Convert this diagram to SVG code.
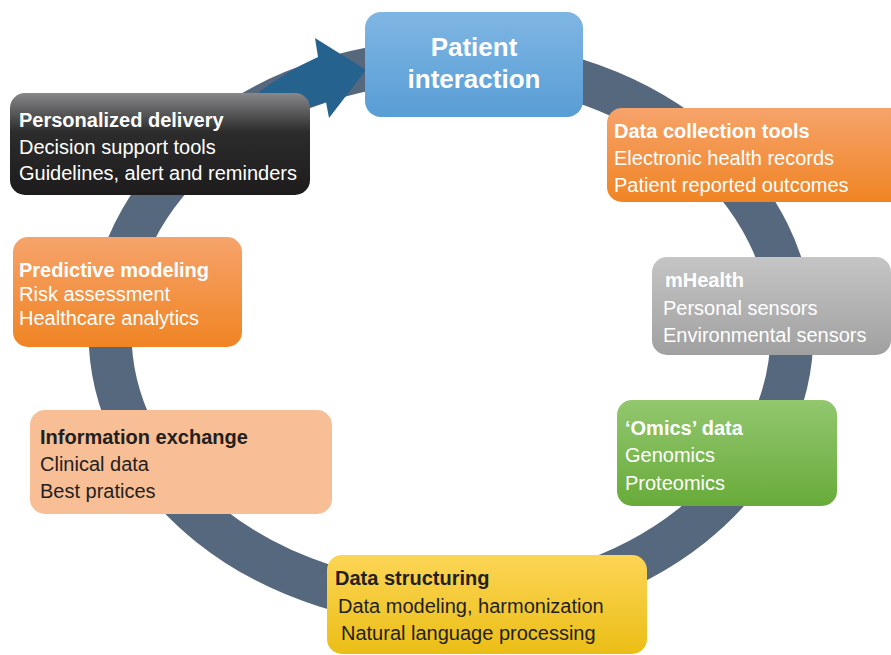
<svg xmlns="http://www.w3.org/2000/svg" width="891" height="655" viewBox="0 0 891 655">
<defs>
<linearGradient id="gBlue" x1="0" y1="0" x2="0" y2="1"><stop offset="0" stop-color="#7fb6e3"/><stop offset="1" stop-color="#589dd5"/></linearGradient>
<linearGradient id="gDark" x1="0" y1="0" x2="0" y2="1"><stop offset="0" stop-color="#88888a"/><stop offset="0.38" stop-color="#2d2c2c"/><stop offset="1" stop-color="#1d1b1b"/></linearGradient>
<linearGradient id="gOrange" x1="0" y1="0" x2="0" y2="1"><stop offset="0" stop-color="#f6a36b"/><stop offset="1" stop-color="#f08423"/></linearGradient>
<linearGradient id="gGrey" x1="0" y1="0" x2="0" y2="1"><stop offset="0" stop-color="#c5c5c5"/><stop offset="1" stop-color="#a0a0a0"/></linearGradient>
<linearGradient id="gGreen" x1="0" y1="0" x2="0" y2="1"><stop offset="0" stop-color="#92c76e"/><stop offset="1" stop-color="#68ab3a"/></linearGradient>
<linearGradient id="gYellow" x1="0" y1="0" x2="0" y2="1"><stop offset="0" stop-color="#fcd555"/><stop offset="1" stop-color="#ebbe16"/></linearGradient>
</defs>
<style>
text{font-family:"Liberation Sans",Arial,Helvetica,sans-serif;font-size:20px}
.w{fill:#ffffff}
.d{fill:#231f20}
.b{font-weight:bold}
</style>
<g id="connectors">
<ellipse cx="451" cy="333" rx="341" ry="272" fill="none" stroke="#56687e" stroke-width="43"/>
<path d="M 246,102 Q 282,73 318,57 L 315,38 L 366,70 L 329,118 L 326,102 Q 290,112 255,135 Z" fill="#26628e"/>
</g>
<g id="patient-interaction">
<rect x="365" y="12" width="218" height="105" rx="16" fill="url(#gBlue)"/>
<text class="w b" x="474" y="56" text-anchor="middle" style="font-size:26px">Patient</text>
<text class="w b" x="474" y="88" text-anchor="middle" style="font-size:26px">interaction</text>
</g>
<g id="personalized-delivery">
<rect x="10" y="93" width="300" height="102" rx="15" fill="url(#gDark)"/>
<text class="w b" x="19" y="127">Personalized delivery</text>
<text class="w" x="19" y="154">Decision support tools</text>
<text class="w" x="19" y="180">Guidelines, alert and reminders</text>
</g>
<g id="data-collection-tools">
<rect x="607" y="108" width="300" height="94" rx="15" fill="url(#gOrange)"/>
<text class="w b" x="614" y="138">Data collection tools</text>
<text class="w" x="614" y="165">Electronic health records</text>
<text class="w" x="614" y="192">Patient reported outcomes</text>
</g>
<g id="mhealth">
<rect x="652" y="257" width="239" height="98" rx="15" fill="url(#gGrey)"/>
<text class="w b" x="665" y="287">mHealth</text>
<text class="w" x="663" y="315">Personal sensors</text>
<text class="w" x="663" y="342">Environmental sensors</text>
</g>
<g id="predictive-modeling">
<rect x="13" y="237" width="229" height="110" rx="15" fill="url(#gOrange)"/>
<text class="w b" x="19" y="277">Predictive modeling</text>
<text class="w" x="19" y="301">Risk assessment</text>
<text class="w" x="19" y="325">Healthcare analytics</text>
</g>
<g id="omics-data">
<rect x="617" y="400" width="220" height="106" rx="15" fill="url(#gGreen)"/>
<text class="w b" x="625" y="435">‘Omics’ data</text>
<text class="w" x="625" y="462">Genomics</text>
<text class="w" x="625" y="490">Proteomics</text>
</g>
<g id="information-exchange">
<rect x="30" y="410" width="302" height="104" rx="15" fill="#f8be96"/>
<text class="d b" x="40" y="444">Information exchange</text>
<text class="d" x="40" y="471">Clinical data</text>
<text class="d" x="40" y="498">Best pratices</text>
</g>
<g id="data-structuring">
<rect x="327" y="555" width="320" height="99" rx="15" fill="url(#gYellow)"/>
<text class="d b" x="335" y="585">Data structuring</text>
<text class="d" x="338" y="613">Data modeling, harmonization</text>
<text class="d" x="341" y="640">Natural language processing</text>
</g>
</svg>
